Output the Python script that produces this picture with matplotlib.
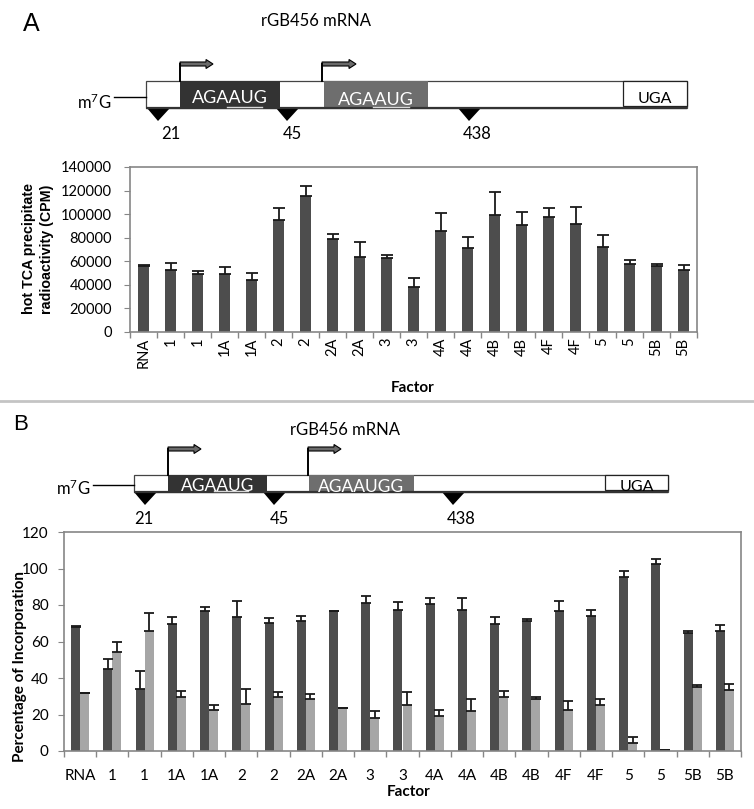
import numpy as np
import matplotlib
matplotlib.use("Agg")
import matplotlib.pyplot as plt
from matplotlib.patches import Rectangle, Polygon, FancyArrow

plt.rcParams['font.family'] = ['Lato', 'DejaVu Sans']
plt.rcParams['mathtext.default'] = 'regular'

## data
factors = ["RNA", "1", "1", "1A", "1A", "2", "2", "2A", "2A", "3", "3",
           "4A", "4A", "4B", "4B", "4F", "4F", "5", "5", "5B", "5B"]

cpm = [56000, 52500, 49000, 49000, 44000, 95000, 115000, 79000, 63500, 63000, 38000,
       85500, 71000, 99000, 90500, 98000, 92000, 72000, 58000, 56000, 53000]
cpm_err = [500, 6000, 3000, 6500, 6000, 10500, 8500, 4000, 12500, 2500, 8000,
           15500, 10000, 20000, 11500, 7000, 14000, 10000, 3000, 1500, 3500]

pct_dark = [68, 44.7, 33.8, 69.8, 76.5, 73.6, 70.2, 71.1, 76.5, 81.3, 77.3,
            80.4, 77.5, 69.8, 71.1, 76.9, 74.2, 95.1, 102.7, 64.4, 65.8]
pct_dark_err = [0.4, 5.8, 10.2, 3.5, 2.4, 8.8, 2.7, 2.7, 0.3, 3.8, 4.5,
                3.6, 6.5, 3.5, 1.3, 5.1, 2.9, 3.8, 2.6, 1.6, 3.3]
pct_light = [31.6, 54.5, 65.6, 29.5, 22.5, 25.8, 29.5, 28.4, 23.5, 18, 25.3,
             19.1, 22, 29.5, 28.4, 22.4, 25.1, 4.2, 0.4, 34.9, 33.6]
pct_light_err = [0.3, 5.5, 10.2, 3.4, 2.8, 8.4, 2.7, 2.9, 0.2, 3.8, 7.1,
                 3.6, 6.5, 3.6, 1.2, 5.2, 3.3, 3.6, 0, 1.5, 3.1]

W, H = 754, 809
DARK = '#4d4d4d'
LIGHT = '#a6a6a6'
SPINE = '#868686'

fig = plt.figure(figsize=(W / 100, H / 100), dpi=100)

## overlay in pixel coordinates for the schematics
ov = fig.add_axes([0, 0, 1, 1])
ov.set_xlim(0, W)
ov.set_ylim(H, 0)
ov.axis("off")


def px_axes(left, top, right, bottom):
    return fig.add_axes([left / W, 1 - bottom / H, (right - left) / W, (bottom - top) / H])


def draw_mrna(y0, h, x0, x1, dark, gray, uga, m7g_x, arrows, arrow_rise, tris,
              dark_text, gray_text, underlines, tsize):
    y1 = y0 + h
    ov.add_patch(Rectangle((x0, y0), x1 - x0, h, fc='white', ec='#444444', lw=0.9))
    ov.add_patch(Rectangle((dark[0], y0), dark[1] - dark[0], h, fc='#333333', ec='none'))
    ov.add_patch(Rectangle((gray[0], y0), gray[1] - gray[0], h, fc='#6e6e6e', ec='none'))
    ov.add_patch(Rectangle((uga, y0), x1 - uga, h - 2, fc='white', ec='#222222', lw=0.9))
    ov.plot([x0, x1], [y1, y1], color='#333333', lw=1.6, solid_capstyle='butt')
    for (ux0, ux1) in underlines:
        ov.plot([ux0, ux1], [y1 - 1, y1 - 1], color='#d8d8d8', lw=1.0)
    ov.text((dark[0] + dark[1]) / 2, y0 + h * 0.62, dark_text, color='white',
            ha='center', va='center', fontsize=tsize)
    ov.text((gray[0] + gray[1]) / 2, y0 + h * 0.7, gray_text, color='white',
            ha='center', va='center', fontsize=tsize)
    ov.text((uga + x1) / 2, y0 + h * 0.68, "UGA", color='black',
            ha='center', va='center', fontsize=11.5)
    # cap
    ov.plot([m7g_x + 3, x0], [y0 + h * 0.6, y0 + h * 0.6], color='black', lw=1)
    ov.text(m7g_x, y0 + h * 0.78, r"m$^{7}$G", ha='right', va='center', fontsize=12)
    # start arrows
    for ax_, tip in arrows:
        ay = y0 - arrow_rise
        ov.plot([ax_, ax_], [y0, ay], color='black', lw=1.4)
        ov.add_patch(FancyArrow(ax_, ay, tip - ax_, 0, width=4, head_width=9,
                                head_length=7, length_includes_head=True,
                                fc='#6a6a6a', ec='black', lw=0.8))
    for cx in tris:
        ov.add_patch(Polygon([(cx - 12, y1), (cx + 11, y1), (cx - 1, y1 + 13)],
                             closed=True, fc='black', ec='none'))


## ---------------- panel A ----------------
fig.text(23 / W, 1 - 24 / H, "A", fontsize=18, family='Liberation Sans', va='center')
ov.text(316, 21, "rGB456 mRNA", ha='center', va='center', fontsize=12)
draw_mrna(81, 27, 146, 687, (180, 280), (324, 428), 623, 111,
          [(180, 213), (322, 356)], 17, [159, 288, 470],
          "AGAAUG", "AGAAUG", [(227, 262), (373, 409)], 13)
for lx, lab in zip([171, 292, 477], ["21", "45", "438"]):
    ov.text(lx, 134, lab, ha='center', va='center', fontsize=12)

axA = px_axes(130, 167, 697, 332)
x = np.arange(len(factors))
axA.bar(x, cpm, width=0.4, color=DARK, yerr=[np.zeros(len(cpm)), cpm_err],
        capsize=4, error_kw=dict(elinewidth=1.3, capthick=1.3, ecolor='#1a1a1a'))
axA.set_xlim(-0.5, len(factors) - 0.5)
axA.set_ylim(0, 140000)
axA.set_yticks(np.arange(0, 140001, 20000))
axA.set_xticks(x)
axA.set_xticklabels(factors, rotation=90, fontsize=10.5)
axA.set_xticks(np.arange(-0.5, len(factors)), minor=True)
axA.tick_params(axis='x', which='major', length=0, pad=4)
axA.tick_params(axis='x', which='minor', length=4, color=SPINE, width=1)
axA.tick_params(axis='y', length=4, color=SPINE, labelsize=10.5, pad=9)
for s in axA.spines.values():
    s.set_color(SPINE)
    s.set_linewidth(1.2)
fig.text(38 / W, 1 - 249 / H, "hot TCA precipitate\nradioactivity (CPM)", rotation=90,
         ha='center', va='center', fontsize=10.3, fontweight='bold',
         family='Liberation Sans', linespacing=1.3, multialignment='center')
fig.text(413 / W, 1 - 388 / H, "Factor", ha='center', va='center', fontsize=11,
         fontweight='bold')

## separator
ov.plot([0, W], [401, 401], color='#c4c4c4', lw=2)

## ---------------- panel B ----------------
fig.text(13 / W, 1 - 425 / H, "B", fontsize=16, family='Liberation Sans', va='center')
ov.text(345, 430, "rGB456 mRNA", ha='center', va='center', fontsize=12)
draw_mrna(475, 17, 134, 668, (168, 267), (309, 414), 605, 90,
          [(168, 201), (308, 341)], 26, [146, 275, 454],
          "AGAAUG", "AGAAUGG", [(214, 248)], 12.5)
for lx, lab in zip([144, 279, 461], ["21", "45", "438"]):
    ov.text(lx, 519, lab, ha='center', va='center', fontsize=12)

axB = px_axes(64, 532, 741, 751)
bw = 0.28
ekw = dict(elinewidth=1.3, capthick=1.3, ecolor='#1a1a1a')
axB.bar(x - bw / 2, pct_dark, width=bw, color=DARK,
        yerr=[np.zeros(len(x)), pct_dark_err], capsize=3.5, error_kw=ekw)
axB.bar(x + bw / 2, pct_light, width=bw, color=LIGHT,
        yerr=[np.zeros(len(x)), pct_light_err], capsize=3.5, error_kw=ekw)
axB.set_xlim(-0.5, len(factors) - 0.5)
axB.set_ylim(0, 120)
axB.set_yticks(np.arange(0, 121, 20))
axB.set_xticks(x)
axB.set_xticklabels(factors, fontsize=11)
axB.set_xticks(np.arange(-0.5, len(factors)), minor=True)
axB.tick_params(axis='x', which='major', length=0, pad=13)
axB.tick_params(axis='x', which='minor', length=4, color=SPINE, width=1)
axB.tick_params(axis='y', length=4, color=SPINE, labelsize=11, pad=7)
for s in axB.spines.values():
    s.set_color(SPINE)
    s.set_linewidth(1.2)
# the reference label sits on top of the tick labels; nudge it left a touch
fig.text(20 / W, 1 - 667 / H, "Percentage of Incorporation", rotation=90,
         ha='center', va='center', fontsize=11, fontweight='bold')
fig.text(409 / W, 1 - 792 / H, "Factor", ha='center', va='center', fontsize=11,
         fontweight='bold')

fig.savefig("out.png", dpi=100)
